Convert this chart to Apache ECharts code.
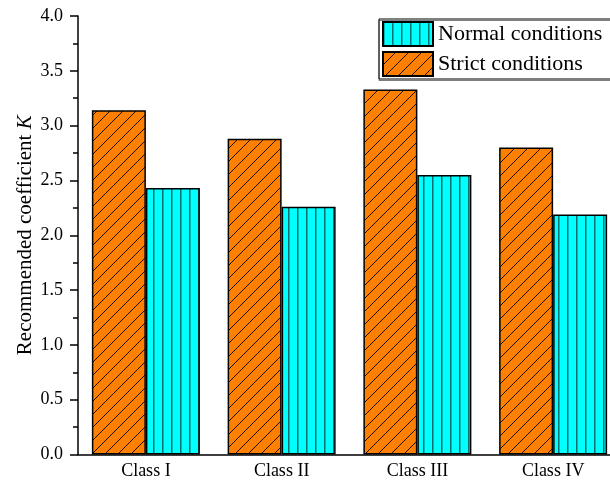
<!DOCTYPE html>
<html>
<head>
<meta charset="utf-8">
<script src="https://cdn.jsdelivr.net/npm/echarts@6/dist/echarts.min.js"></script>
<style>
  html, body { margin: 0; padding: 0; background: #fff; }
  #chart { width: 610px; height: 486px; }
</style>
</head>
<body>
<div id="chart"></div>
<script>
// Road classes on the category axis
const categories = ['Class I', 'Class II', 'Class III', 'Class IV'];
// Recommended coefficient K for each condition
const strictValues = [3.14, 2.88, 3.33, 2.80];
const normalValues = [2.43, 2.26, 2.55, 2.19];
const yTicks = { min: 0, max: 4, interval: 0.5 };

const FONT = '"Liberation Serif", "Times New Roman", serif';

// Hatched fills: orange with "/" stripes, cyan with vertical stripes
function hatchOrange() {
  const c = document.createElement('canvas');
  c.width = 13; c.height = 13;
  const g = c.getContext('2d');
  g.fillStyle = '#FF8000';
  g.fillRect(0, 0, 13, 13);
  g.strokeStyle = '#1a0d00';
  g.lineWidth = 1;
  g.beginPath();
  for (let k = -13; k <= 26; k += 13) {
    g.moveTo(k, 13);
    g.lineTo(k + 13, 0);
  }
  g.stroke();
  return c;
}
function hatchCyan() {
  const c = document.createElement('canvas');
  c.width = 9; c.height = 9;
  const g = c.getContext('2d');
  g.fillStyle = '#00FFFF';
  g.fillRect(0, 0, 9, 9);
  g.fillStyle = '#007070';
  g.fillRect(0, 0, 1.5, 9);
  return c;
}

const chart = echarts.init(document.getElementById('chart'), null, { renderer: 'canvas' });

chart.setOption({
  animation: false,
  backgroundColor: '#fff',
  grid: { left: 78, top: 16, width: 543, height: 438.5, outerBoundsMode: 'none', containLabel: false },
  legend: {
    orient: 'vertical',
    left: 379,
    top: 19,
    data: ['Normal conditions', 'Strict conditions'],
    icon: 'rect',
    itemWidth: 50,
    itemHeight: 24,
    itemGap: 4,
    padding: [2, 40, 2, 3],
    borderColor: '#000',
    borderWidth: 1,
    shadowColor: 'rgba(0,0,0,0.5)',
    shadowOffsetY: 1.5,
    shadowBlur: 0,
    textStyle: { fontFamily: FONT, fontSize: 22, color: '#000' }
  },
  xAxis: [
    {
      type: 'category',
      data: categories,
      axisLine: { lineStyle: { color: '#000', width: 1.5 } },
      axisTick: { alignWithLabel: true, length: 9, lineStyle: { color: '#000', width: 1.5 } },
      axisLabel: { fontFamily: FONT, fontSize: 18, color: '#000', margin: 8 }
    },
    {
      type: 'category',
      data: categories,
      position: 'bottom',
      axisLine: { show: false },
      axisTick: { alignWithLabel: false, length: 4, lineStyle: { color: '#000', width: 1.5 } },
      axisLabel: { show: false }
    }
  ],
  yAxis: {
    type: 'value',
    min: yTicks.min,
    max: yTicks.max,
    interval: yTicks.interval,
    name: '{a|Recommended coefficient }{b|K}',
    nameLocation: 'middle',
    nameGap: 42,
    nameMoveOverlap: false,
    nameTextStyle: {
      rich: {
        a: { fontFamily: FONT, fontSize: 21, color: '#000' },
        b: { fontFamily: FONT, fontSize: 21, fontStyle: 'italic', color: '#000' }
      }
    },
    axisLine: { show: true, lineStyle: { color: '#000', width: 1.5 } },
    axisTick: { show: true, length: 8, lineStyle: { color: '#000', width: 1.5 } },
    minorTick: { show: true, splitNumber: 2, length: 5, lineStyle: { color: '#000', width: 1.5 } },
    splitLine: { show: false },
    axisLabel: {
      fontFamily: FONT, fontSize: 18, color: '#000', margin: 15,
      formatter: v => v.toFixed(1)
    }
  },
  series: [
    {
      name: 'Strict conditions',
      type: 'bar',
      data: strictValues,
      barWidth: 54,
      barGap: '0%',
      itemStyle: {
        color: { image: hatchOrange(), repeat: 'repeat' },
        borderColor: '#000',
        borderWidth: 1.5
      }
    },
    {
      name: 'Normal conditions',
      type: 'bar',
      data: normalValues,
      barWidth: 54,
      barGap: '0%',
      itemStyle: {
        color: { image: hatchCyan(), repeat: 'repeat' },
        borderColor: '#000',
        borderWidth: 1.5
      }
    }
  ]
});
</script>
</body>
</html>
